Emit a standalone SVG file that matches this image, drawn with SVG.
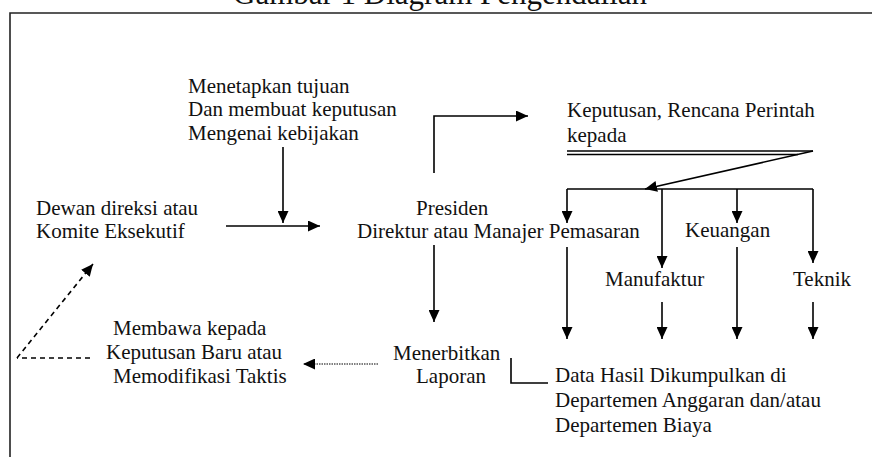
<svg xmlns="http://www.w3.org/2000/svg" width="872" height="457" viewBox="0 0 872 457">
<defs>
<marker id="arr" markerUnits="userSpaceOnUse" markerWidth="12" markerHeight="11" refX="12" refY="5.5" orient="auto">
<path d="M0,0 L12,5.5 L0,11 z" fill="#000"/>
</marker>
<style>
text{font-family:"Liberation Serif","Times New Roman",serif;font-size:21px;fill:#111}
.title{font-size:31px}
.ln{fill:none;stroke:#000;stroke-width:1.6}
.dash{stroke-dasharray:5 4}
.dot{stroke-dasharray:1.5 1;stroke-width:1.2}
</style>
</defs>
<rect width="872" height="457" fill="#fff"/>
<text class="title" x="233" y="4">Gambar 1 Diagram Pengendalian</text>
<path d="M10,457 V13 H872" fill="none" stroke="#222" stroke-width="1.6"/>

<g id="tujuan">
<text x="188" y="93">Menetapkan tujuan</text>
<text x="188" y="116">Dan membuat keputusan</text>
<text x="188" y="140">Mengenai kebijakan</text>
</g>
<g id="dewan">
<text x="36" y="215">Dewan direksi atau</text>
<text x="36" y="238">Komite Eksekutif</text>
</g>
<g id="presiden">
<text x="416" y="215">Presiden</text>
<text x="357" y="238">Direktur atau Manajer Pemasaran</text>
</g>
<g id="keputusan">
<text x="567" y="117">Keputusan, Rencana Perintah</text>
<text x="567" y="142">kepada</text>
</g>
<g id="keuangan"><text x="685" y="237">Keuangan</text></g>
<g id="manufaktur"><text x="605" y="286">Manufaktur</text></g>
<g id="teknik"><text x="793" y="286">Teknik</text></g>
<g id="laporan">
<text x="393" y="360">Menerbitkan</text>
<text x="416" y="383">Laporan</text>
</g>
<g id="data">
<text x="555" y="382">Data Hasil Dikumpulkan di</text>
<text x="555" y="407">Departemen Anggaran dan/atau</text>
<text x="555" y="432">Departemen Biaya</text>
</g>
<g id="membawa">
<text x="113" y="335">Membawa kepada</text>
<text x="106" y="359">Keputusan Baru atau</text>
<text x="113" y="383">Memodifikasi Taktis</text>
</g>

<g id="connectors">
<path class="ln" d="M283,147 V223" marker-end="url(#arr)"/>
<path class="ln" d="M226,226 H320" marker-end="url(#arr)"/>
<path class="ln" d="M434,173 V116 H528" marker-end="url(#arr)"/>
<path class="ln" d="M567,151 H813" stroke-width="1.3"/>
<path class="ln" d="M567,154.5 H798" stroke-width="1.3"/>
<path class="ln" d="M813,151 L645,189" marker-end="url(#arr)"/>
<path class="ln" d="M567,189 H813"/>
<path class="ln" d="M567,189 V223" marker-end="url(#arr)"/>
<path class="ln" d="M662,189 V268" marker-end="url(#arr)"/>
<path class="ln" d="M737,189 V223" marker-end="url(#arr)"/>
<path class="ln" d="M813,189 V263" marker-end="url(#arr)"/>
<path class="ln" d="M567,247 V339" marker-end="url(#arr)"/>
<path class="ln" d="M662,302 V339" marker-end="url(#arr)"/>
<path class="ln" d="M737,247 V339" marker-end="url(#arr)"/>
<path class="ln" d="M813,302 V339" marker-end="url(#arr)"/>
<path class="ln" d="M434,245 V322" marker-end="url(#arr)"/>
<path class="ln" d="M511,358 V383 H548"/>
<path class="ln dot" d="M378,364 H303" marker-end="url(#arr)"/>
<path class="ln dash" d="M90,358 H17"/>
<path class="ln dash" d="M17,358 L93,264" marker-end="url(#arr)"/>
</g>
</svg>
